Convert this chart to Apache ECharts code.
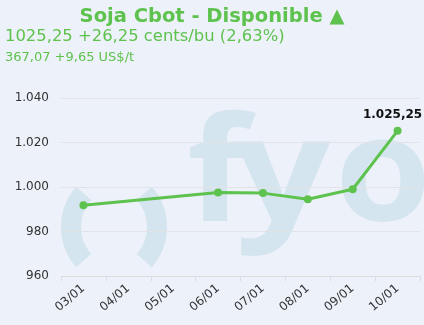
<!DOCTYPE html>
<html>
<head>
<meta charset="utf-8">
<script src="https://cdn.jsdelivr.net/npm/echarts@6/dist/echarts.min.js"></script>
<style>
html,body{margin:0;padding:0;background:#edf1f9;}
#c{width:424px;height:325px;}
</style>
</head>
<body>
<div id="c"></div>
<script>
var titleText = 'Soja Cbot - Disponible \u25B2';
var subLine1 = '1025,25 +26,25 cents/bu (2,63%)';
var subLine2 = '367,07 +9,65 US$/t';
var categories = ['03/01','04/01','05/01','06/01','07/01','08/01','09/01','10/01'];
var values = [991.75, null, null, 997.5, 997.25, 994.5, 999, 1025.25];
var yTicks = [960, 980, 1000, 1020, 1040];

var green = '#5ec24e';
var wm = '#d5e5ef';
var font = 'DejaVu Sans, Verdana, sans-serif';

function fmt(v, dec) {
  var s = v.toFixed(dec);
  var parts = s.split('.');
  var intp = parts[0].replace(/\B(?=(\d{3})+(?!\d))/g, '.');
  return parts.length > 1 ? intp + ',' + parts[1] : intp;
}

function wmLetter(ch, x, sx) {
  return {type: 'text', z: -10, silent: true, x: x, y: 180, scaleX: sx,
    style: {text: ch, fill: wm, fontSize: 145, fontWeight: 'bold', fontFamily: 'Open Sans',
            align: 'center', verticalAlign: 'middle'}};
}

var chart = echarts.init(document.getElementById('c'), null, {renderer: 'canvas'});
chart.setOption({
  backgroundColor: '#edf1f9',
  animation: false,
  textStyle: {fontFamily: font},
  title: [
    {text: titleText, left: 'center', top: 2,
     textStyle: {color: green, fontSize: 19.5, fontWeight: 'bold', fontFamily: font}},
    {text: subLine1, left: 0, top: 24,
     textStyle: {color: green, fontSize: 16.4, fontWeight: 'normal', fontFamily: font}},
    {text: subLine2, left: 0, top: 46,
     textStyle: {color: green, fontSize: 13, fontWeight: 'normal', fontFamily: font}}
  ],
  graphic: [
    {type: 'arc', z: -10, silent: true,
     shape: {cx: 122, cy: 227, r: 51, startAngle: Math.PI - 0.72, endAngle: Math.PI + 0.72},
     style: {stroke: wm, fill: null, lineWidth: 20}},
    {type: 'arc', z: -10, silent: true,
     shape: {cx: 106, cy: 227, r: 51, startAngle: -0.72, endAngle: 0.72},
     style: {stroke: wm, fill: null, lineWidth: 20}},
    wmLetter('f', 218, 1.1),
    wmLetter('y', 283, 1.15),
    wmLetter('o', 383, 1.07)
  ],
  grid: {left: 61, right: 4, top: 98, bottom: 49, containLabel: false},
  xAxis: {
    type: 'category',
    data: categories,
    boundaryGap: true,
    axisLine: {show: true, lineStyle: {color: '#dcdcdc'}},
    axisTick: {show: true, length: 5, lineStyle: {color: '#dcdcdc'}},
    axisLabel: {rotate: 40, color: '#333', fontSize: 12, margin: 11, fontFamily: font},
    splitLine: {show: false}
  },
  yAxis: {
    type: 'value',
    min: yTicks[0],
    max: yTicks[yTicks.length - 1],
    interval: 20,
    axisLine: {show: false},
    axisTick: {show: false},
    axisLabel: {color: '#333', fontSize: 12, margin: 12, fontFamily: font,
      formatter: function (v) { return fmt(v, 0); }},
    splitLine: {lineStyle: {color: '#e2e3e6', width: 1}}
  },
  series: [{
    type: 'line',
    data: values,
    connectNulls: true,
    symbol: 'circle',
    symbolSize: 8,
    lineStyle: {color: green, width: 3},
    itemStyle: {color: green},
    label: {
      show: true,
      position: 'top',
      distance: 8,
      offset: [-5, 2],
      color: '#111',
      fontWeight: 'bold',
      fontSize: 12,
      fontFamily: font,
      formatter: function (p) {
        return p.dataIndex === values.length - 1 ? fmt(p.value, 2) : '';
      }
    }
  }]
});
</script>
</body>
</html>
